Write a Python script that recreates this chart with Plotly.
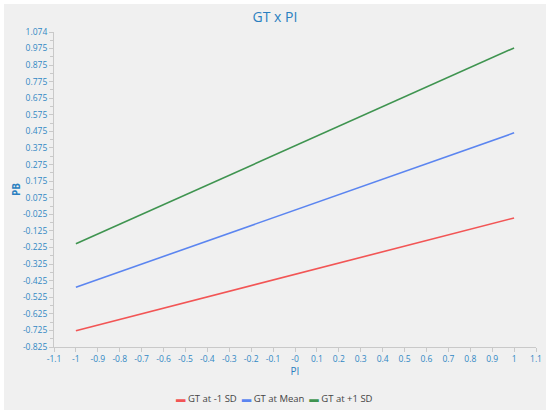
import plotly.graph_objects as go

# Simple slopes: PB vs PI for three levels of GT
pi_vals = [-1, 1]
pb_low = [-0.727, -0.047]
pb_mean = [-0.465, 0.466]
pb_high = [-0.203, 0.978]

series_names = ["GT at -1 SD", "GT at Mean", "GT at +1 SD"]
series_colors = ["#f25555", "#5b85f0", "#3f9450"]

x_tickvals = [-1.1, -1.0, -0.9, -0.8, -0.7, -0.6, -0.5, -0.4, -0.3, -0.2, -0.1, 0.0,
              0.1, 0.2, 0.3, 0.4, 0.5, 0.6, 0.7, 0.8, 0.9, 1.0, 1.1]
x_ticktext = ["-1.1", "-1", "-0.9", "-0.8", "-0.7", "-0.6", "-0.5", "-0.4", "-0.3", "-0.2", "-0.1", "-0",
              "0.1", "0.2", "0.3", "0.4", "0.5", "0.6", "0.7", "0.8", "0.9", "1", "1.1"]
y_tickvals = [-0.825, -0.725, -0.625, -0.525, -0.425, -0.325, -0.225, -0.125, -0.025, 0.075,
              0.175, 0.275, 0.375, 0.475, 0.575, 0.675, 0.775, 0.875, 0.975, 1.074]
y_ticktext = ["-0.825", "-0.725", "-0.625", "-0.525", "-0.425", "-0.325", "-0.225", "-0.125", "-0.025",
              "0.075", "0.175", "0.275", "0.375", "0.475", "0.575", "0.675", "0.775", "0.875", "0.975", "1.074"]

TICK_BLUE = "#3088c4"
AXIS_GREY = "#c9c9c9"
FONT = "Open Sans, Noto Sans, sans-serif"

fig = go.Figure()
for name, ys, col in zip(series_names, [pb_low, pb_mean, pb_high], series_colors):
    fig.add_scatter(x=pi_vals, y=ys, name=name, mode="lines", showlegend=False,
                    line=dict(color=col, width=1.6))

# compact legend (short colour dash + label), written as one line of text
legend_text = "&nbsp; ".join(
    f"<span style='color:{c}'>▬</span> {n}" for n, c in zip(series_names, series_colors)
)
fig.add_annotation(text=legend_text, xref="paper", yref="paper", x=0.4575, y=-0.162,
                   xanchor="center", yanchor="middle", showarrow=False,
                   font=dict(family=FONT, size=9.5, color="#444444"))

# grey panel behind the chart
fig.add_shape(type="rect", xref="paper", yref="paper", layer="below",
              x0=-0.1037, x1=1.0207, y0=-0.2, y1=1.0889,
              fillcolor="#f0f0f0", line_width=0)

fig.update_layout(
    width=550, height=415,
    margin=dict(l=54, r=14, t=32, b=68, autoexpand=False),
    paper_bgcolor="white", plot_bgcolor="rgba(0,0,0,0)",
    font=dict(family=FONT, size=8.5, color=TICK_BLUE),
    title=dict(text="GT x PI", x=0.5, xanchor="center", y=0.960, yanchor="middle",
               font=dict(size=14, color="#2a7fc0")),
)
fig.update_xaxes(
    range=[-1.1, 1.1], tickvals=x_tickvals, ticktext=x_ticktext, automargin=False,
    showgrid=False, zeroline=False, showline=True, linecolor=AXIS_GREY, linewidth=1,
    ticks="outside", ticklen=4, tickcolor=AXIS_GREY, tickfont=dict(size=8.5, color=TICK_BLUE),
    title=dict(text="PI", standoff=1, font=dict(size=10, color="#2a7fc0")),
)
fig.update_yaxes(
    range=[-0.825, 1.074], tickvals=y_tickvals, ticktext=y_ticktext, automargin=False,
    showgrid=False, zeroline=False, showline=True, linecolor=AXIS_GREY, linewidth=1,
    ticks="outside", ticklen=4, tickcolor=AXIS_GREY, tickfont=dict(size=8.5, color=TICK_BLUE),
    minor=dict(ticks="outside", ticklen=3, tickcolor=AXIS_GREY, dtick=0.05, tick0=-0.825),
    title=dict(text="<b>PB</b>", standoff=0, font=dict(size=10, color="#2a7fc0")),
)

fig.write_html(
    "out.html",
    config={"displayModeBar": False},
    post_script="document.body.style.margin='0';"
                "document.body.style.overflow='hidden';"
                "document.documentElement.style.overflow='hidden';",
)
